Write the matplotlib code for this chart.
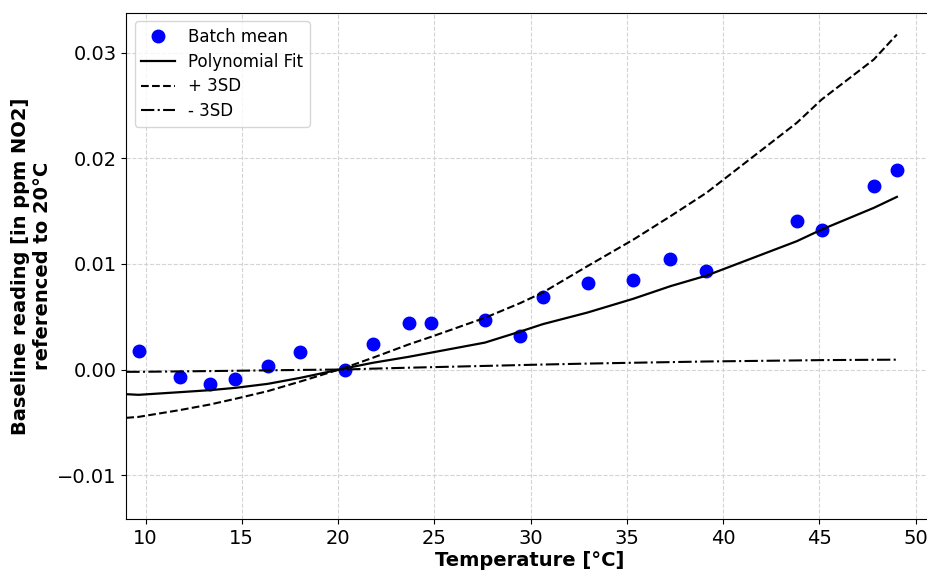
import matplotlib
matplotlib.use('Agg')
import matplotlib.pyplot as plt

# batch means
temps = [9.64, 11.77, 13.34, 14.66, 16.35, 18.04, 20.34, 21.79, 23.66, 24.84, 27.63,
         29.47, 30.64, 32.96, 35.33, 37.27, 39.14, 43.83, 45.13, 47.83, 49.03]
batch_mean = [0.0018, -0.00073, -0.00136, -0.00088, 0.00035, 0.0017, 0.0, 0.0024, 0.0044,
              0.0044, 0.00465, 0.00316, 0.0069, 0.0082, 0.0085, 0.01046, 0.0093, 0.01412,
              0.01324, 0.01741, 0.01889]

# fit curves, evaluated at the batch temperatures (plus the left end)
fit_temps = [9.0] + temps
poly_fit = [-0.00234, -0.0024, -0.00215, -0.00196, -0.00174, -0.00136, -0.00079, 0.0001,
            0.00063, 0.0012, 0.0016, 0.00255, 0.0036, 0.0043, 0.0054, 0.0067, 0.0079,
            0.0089, 0.01216, 0.01327, 0.01532, 0.01636]
plus_3sd = [-0.00458, -0.00449, -0.00385, -0.00332, -0.00278, -0.00205, -0.00114, 0.00016,
            0.0011, 0.00237, 0.0031, 0.0049, 0.0063, 0.0073, 0.0098, 0.0123, 0.01453,
            0.01675, 0.02338, 0.0256, 0.02938, 0.03175]
minus_3sd = [-0.00022, -0.00022, -0.00018, -0.00015, -0.00012, -0.00008, -0.00004, 0.0,
             0.00008, 0.00017, 0.00022, 0.00034, 0.00042, 0.00047, 0.00056, 0.00064,
             0.0007, 0.00076, 0.00086, 0.00089, 0.00092, 0.00093]

fig = plt.figure(figsize=(9.27, 5.72), dpi=100)
# right edge runs past the figure so the right spine is cut off, as in the original
ax = fig.add_axes([126.3 / 927, 1 - 519 / 572, 806 / 927, 506 / 572])

ax.plot(temps, batch_mean, 'bo', markersize=9, label='Batch mean')
ax.plot(fit_temps, poly_fit, 'k-', linewidth=1.6, label='Polynomial Fit')
ax.plot(fit_temps, plus_3sd, 'k--', linewidth=1.5, label='+ 3SD')
ax.plot(fit_temps, minus_3sd, 'k-.', linewidth=1.5, label='- 3SD')

ax.set_xlim(9.0, 9.0 + 806 / 19.25)
ax.set_ylim(-0.01417, 0.03379)
ax.set_xticks([10, 15, 20, 25, 30, 35, 40, 45, 50])
ax.set_yticks([-0.01, 0.0, 0.01, 0.02, 0.03])
ax.tick_params(labelsize=14)

ax.set_xlabel('Temperature [°C]', fontsize=14, fontweight='bold', labelpad=2)
ax.set_ylabel('Baseline reading [in ppm NO2]\nreferenced to 20°C', fontsize=14,
              fontweight='bold')
ax.grid(True, linestyle='--', color='#d4d4d4', linewidth=0.8)
ax.set_axisbelow(True)
ax.legend(loc='upper left', fontsize=12, labelspacing=0.4)

fig.savefig('out.png', dpi=100)
